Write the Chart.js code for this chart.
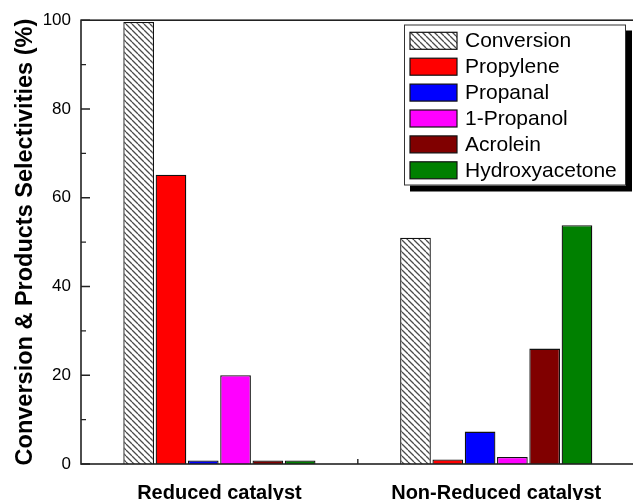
<!DOCTYPE html>
<html>
<head>
<meta charset="utf-8">
<script src="https://cdn.jsdelivr.net/npm/chart.js@4"></script>
<style>
  html, body { margin: 0; padding: 0; overflow: hidden; background: #fff; }
  #wrap { width: 692px; height: 500px; }
</style>
</head>
<body>
<div id="wrap"><canvas id="c" width="692" height="500"></canvas></div>
<script>
// Catalyst states on the x axis
const categories = ['Reduced catalyst', 'Non-Reduced catalyst'];

// Glycerol conversion and product selectivities (%)
const conversion     = [99.6, 51.0];
const propylene      = [65.2, 1.0];
const propanal       = [0.8, 7.3];
const propanol       = [20.0, 1.6];
const acrolein       = [0.8, 26.0];
const hydroxyacetone = [0.8, 53.8];

const seriesNames = ['Conversion', 'Propylene', 'Propanal', '1-Propanol', 'Acrolein', 'Hydroxyacetone'];
const yTicks = [0, 20, 40, 60, 80, 100];

const FONT = '"Liberation Sans", Arial, Helvetica, sans-serif';

// Diagonal hatch used for the conversion bars
function makeHatch() {
  const s = 6;
  const c = document.createElement('canvas');
  c.width = s; c.height = s;
  const g = c.getContext('2d');
  g.fillStyle = '#fff';
  g.fillRect(0, 0, s, s);
  g.strokeStyle = '#4a4a4a';
  g.lineWidth = 1.3;
  g.beginPath();
  for (const o of [-s, 0, s]) {
    g.moveTo(o, 0);
    g.lineTo(o + s, s);
  }
  g.stroke();
  return g.createPattern(c, 'repeat');
}
const hatch = makeHatch();

const fills = [hatch, '#ff0000', '#0000ff', '#ff00ff', '#800000', '#008000'];
const values = [conversion, propylene, propanal, propanol, acrolein, hydroxyacetone];

const datasets = values.map((vals, k) => ({
  label: seriesNames[k],
  data: vals.map((v, i) => ({ x: i + 0.5, y: v })),
  backgroundColor: fills[k],
  borderColor: '#111',
  borderWidth: 1.3,
  categoryPercentage: 0.7,
  barPercentage: 0.95
}));

// Frame, inward ticks and the boxed legend
const decorations = {
  id: 'decorations',
  afterDatasetsDraw(chart) {
    const ctx = chart.ctx;
    const a = chart.chartArea;
    const xs = chart.scales.x, ys = chart.scales.y;
    ctx.save();
    ctx.strokeStyle = '#222';
    ctx.lineWidth = 1.6;
    ctx.strokeRect(a.left, a.top, a.right - a.left, a.bottom - a.top);

    ctx.lineWidth = 1.4;
    ctx.beginPath();
    for (let v = 0; v <= 100; v += 10) {
      const p = ys.getPixelForValue(v);
      const len = v % 20 === 0 ? 9 : 5;
      ctx.moveTo(a.left, p);
      ctx.lineTo(a.left + len, p);
    }
    for (let i = 1; i < categories.length; i++) {
      const p = xs.getPixelForValue(i);
      ctx.moveTo(p, a.bottom);
      ctx.lineTo(p, a.bottom - 5);
    }
    ctx.stroke();
    ctx.restore();
  },
  afterDraw(chart) {
    const ctx = chart.ctx;
    const bx = 404, by = 24.5, bw = 222, bh = 161, sh = 6;
    ctx.save();
    ctx.fillStyle = '#000';
    ctx.fillRect(bx + sh, by + sh, bw, bh);
    ctx.fillStyle = '#fff';
    ctx.fillRect(bx, by, bw, bh);
    ctx.strokeStyle = '#333';
    ctx.lineWidth = 1;
    ctx.strokeRect(bx + 0.5, by + 0.5, bw - 1, bh - 1);

    ctx.font = '21px ' + FONT;
    ctx.textBaseline = 'middle';
    ctx.textAlign = 'left';
    chart.data.datasets.forEach((ds, k) => {
      const top = 32.3 + k * 25.9;
      ctx.fillStyle = ds.backgroundColor;
      ctx.fillRect(410, top, 47, 17);
      ctx.strokeStyle = '#111';
      ctx.lineWidth = 1.2;
      ctx.strokeRect(410, top, 47, 17);
      ctx.fillStyle = '#000';
      ctx.fillText(ds.label, 465, top + 9);
    });
    ctx.restore();
  }
};

new Chart(document.getElementById('c'), {
  type: 'bar',
  data: { datasets },
  options: {
    responsive: false,
    animation: false,
    layout: { padding: { left: 0, right: 2, top: 19, bottom: 0 } },
    plugins: { legend: { display: false }, tooltip: { enabled: false } },
    scales: {
      x: {
        type: 'linear',
        offset: false,
        bounds: 'data',
        grace: 0,
        min: 0,
        max: 2.2,
        grid: { display: false, drawTicks: false, offset: false },
        border: { display: false },
        afterDataLimits(scale) { scale.min = 0; scale.max = 2.2; },
        afterBuildTicks(scale) {
          scale.ticks = categories.map((c, i) => ({ value: i + 0.5 }));
        },
        afterFit(scale) { scale.height = 36; },
        ticks: {
          autoSkip: false,
          maxRotation: 0,
          padding: 17,
          color: '#000',
          font: { family: FONT, size: 20, weight: 'bold' },
          callback: (v, i) => categories[i]
        }
      },
      y: {
        min: 0,
        max: 100,
        afterBuildTicks(scale) {
          scale.ticks = yTicks.map(v => ({ value: v }));
        },
        afterFit(scale) { scale.width = 81; },
        grid: { display: false, drawTicks: false },
        border: { display: false },
        ticks: {
          padding: 10,
          color: '#000',
          font: { family: FONT, size: 17 }
        },
        title: {
          display: true,
          text: 'Conversion & Products Selectivities (%)',
          color: '#000',
          font: { family: FONT, size: 23.5, weight: 'bold' },
          padding: { top: 11, bottom: 0 }
        }
      }
    }
  },
  plugins: [decorations]
});
</script>
</body>
</html>
